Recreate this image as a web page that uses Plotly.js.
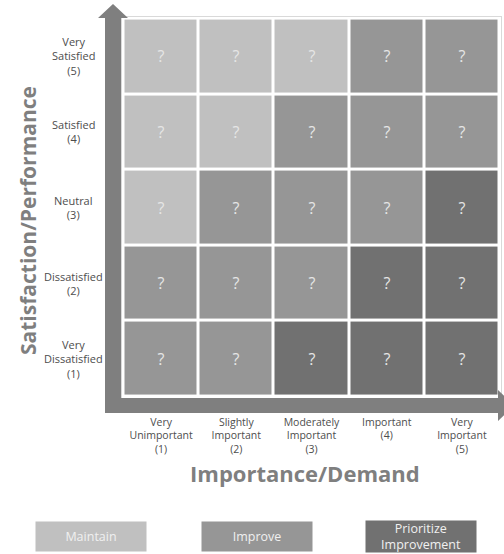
<!DOCTYPE html>
<html>
<head>
<meta charset="utf-8">
<script src="https://cdn.plot.ly/plotly-3.0.1.min.js"></script>
<style>html,body{margin:0;padding:0;background:#fff;}#chart{width:504px;height:554px;}</style>
</head>
<body>
<div id="chart"></div>
<script>
// ---- data ----
var importanceValues = [1, 2, 3, 4, 5];
var importanceLabels = ['Very<br>Unimportant<br>(1)', 'Slightly<br>Important<br>(2)', 'Moderately<br>Important<br>(3)', 'Important<br>(4)', 'Very<br>Important<br>(5)'];
var satisfactionValues = [1, 2, 3, 4, 5];
var satisfactionLabels = ['Very<br>Dissatisfied<br>(1)', 'Dissatisfied<br>(2)', 'Neutral<br>(3)', 'Satisfied<br>(4)', 'Very<br>Satisfied<br>(5)'];
// action level per cell: 0 = Maintain, 1 = Improve, 2 = Prioritize Improvement
// rows = satisfaction 1..5, columns = importance 1..5
var actionLevel = [
  [1, 1, 2, 2, 2],
  [1, 1, 1, 2, 2],
  [0, 1, 1, 1, 2],
  [0, 0, 1, 1, 1],
  [0, 0, 0, 1, 1]
];
var cellText = [
  ['?', '?', '?', '?', '?'],
  ['?', '?', '?', '?', '?'],
  ['?', '?', '?', '?', '?'],
  ['?', '?', '?', '?', '?'],
  ['?', '?', '?', '?', '?']
];
var actionNames = ['Maintain', 'Improve', 'Prioritize<br>Improvement'];
var actionColors = ['#c0c0c0', '#969696', '#717171'];

// ---- layout helpers (pixel -> paper) ----
var W = 504, H = 554;
var L = 122, R = 501, T = 17, B = 398;
function px(p) { return (p - L) / (R - L); }
function py(p) { return (B - p) / (B - T); }

var FONT = 'Open Sans, sans-serif';
var GREY = '#7f7f7f';

var trace = {
  type: 'heatmap',
  x: importanceValues,
  y: satisfactionValues,
  z: actionLevel,
  text: cellText,
  texttemplate: '%{text}',
  textfont: {family: FONT, size: 16, color: '#e6e6e6'},
  zmin: 0, zmax: 2,
  colorscale: [[0, actionColors[0]], [0.5, actionColors[1]], [1, actionColors[2]]],
  showscale: false,
  xgap: 3, ygap: 3,
  hoverinfo: 'skip'
};

var annotations = [];
// y category labels (centered)
satisfactionValues.forEach(function (v, i) {
  annotations.push({
    xref: 'paper', yref: 'y', x: px(73), y: v,
    xanchor: 'center', yanchor: 'middle', align: 'center',
    text: satisfactionLabels[i], showarrow: false,
    font: {family: FONT, size: 11, color: '#4d4d4d'}
  });
});
// axis titles
annotations.push({
  xref: 'paper', yref: 'paper', x: px(305), y: py(473),
  xanchor: 'center', yanchor: 'middle',
  text: '<b>Importance/Demand</b>', showarrow: false,
  font: {family: FONT, size: 22, color: GREY}
});
annotations.push({
  xref: 'paper', yref: 'paper', x: px(28), y: py(221),
  xanchor: 'center', yanchor: 'middle', textangle: -90,
  text: '<b>Satisfaction/Performance</b>', showarrow: false,
  font: {family: FONT, size: 21, color: GREY}
});
// legend boxes
var legendCenters = [91, 256.5, 421];
actionNames.forEach(function (name, i) {
  annotations.push({
    xref: 'paper', yref: 'paper', x: px(legendCenters[i]), y: py(536),
    xanchor: 'center', yanchor: 'middle',
    text: name, showarrow: false, align: 'center',
    width: 110, height: i === 2 ? 31 : 29, borderpad: 0,
    bgcolor: actionColors[i],
    font: {family: FONT, size: 12.5, color: '#f0f0f0'}
  });
});

var arrowPath = 'M ' + px(105) + ' ' + py(413) +
  ' L ' + px(105) + ' ' + py(18) +
  ' L ' + px(98) + ' ' + py(18) +
  ' L ' + px(113) + ' ' + py(4) +
  ' L ' + px(128) + ' ' + py(18) +
  ' L ' + px(121) + ' ' + py(18) +
  ' L ' + px(121) + ' ' + py(398) +
  ' L ' + px(498) + ' ' + py(398) +
  ' L ' + px(498) + ' ' + py(390) +
  ' L ' + px(514) + ' ' + py(405.5) +
  ' L ' + px(498) + ' ' + py(421) +
  ' L ' + px(498) + ' ' + py(413) + ' Z';

var layout = {
  width: W, height: H,
  margin: {l: L, r: W - R, t: T, b: H - B, pad: 0},
  paper_bgcolor: '#ffffff',
  plot_bgcolor: '#ffffff',
  showlegend: false,
  xaxis: {
    range: [0.48, 5.52], tickvals: importanceValues, ticktext: importanceLabels,
    ticks: 'outside', ticklen: 14, tickcolor: 'rgba(0,0,0,0)',
    tickfont: {family: FONT, size: 10.5, color: '#4d4d4d'},
    showgrid: false, zeroline: false, fixedrange: true,
    showline: true, linecolor: '#d9d9d9', linewidth: 1, mirror: true
  },
  yaxis: {
    range: [0.48, 5.52], tickvals: satisfactionValues, showticklabels: false,
    ticks: '', showgrid: false, zeroline: false, fixedrange: true,
    showline: true, linecolor: '#d9d9d9', linewidth: 1, mirror: true
  },
  shapes: [{
    type: 'path', xref: 'paper', yref: 'paper', path: arrowPath,
    fillcolor: GREY, line: {width: 0}, layer: 'above'
  }],
  annotations: annotations
};

Plotly.newPlot('chart', [trace], layout, {displayModeBar: false, staticPlot: true});
</script>
</body>
</html>
